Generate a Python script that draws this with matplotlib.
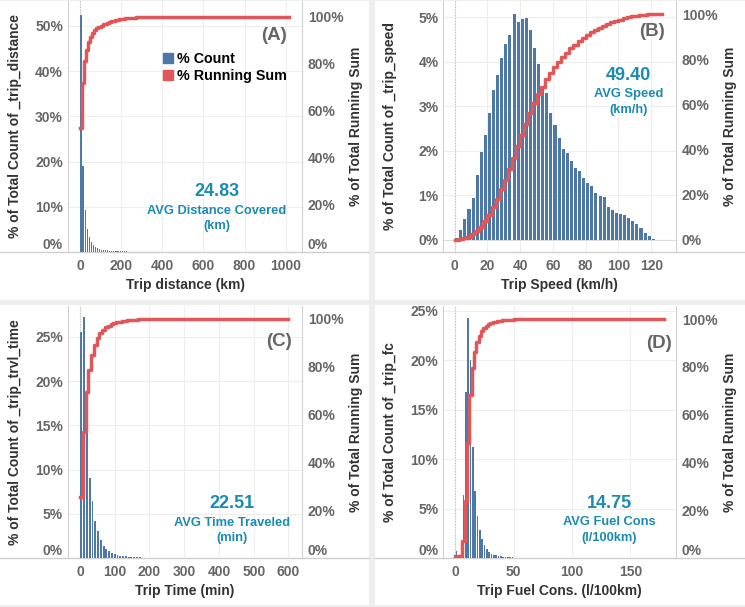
import numpy as np
import matplotlib
matplotlib.use("Agg")
import matplotlib.pyplot as plt
from matplotlib.lines import Line2D
from matplotlib.patches import Rectangle

plt.rcParams['font.family'] = ['Liberation Sans', 'DejaVu Sans']
plt.rcParams['font.weight'] = 'bold'
plt.rcParams['axes.labelweight'] = 'bold'

BLUE = '#4e79a7'
RED = '#e15759'
TEAL = '#1b8cb0'
GRAY = '#666666'
DARK = '#333333'
LINE = '#d0d0d0'
BG = '#eeeeee'

# --- values: % of trips per bin ---
dist_bin = 10
dist_count = [52.5, 19.0, 9.3, 5.0, 3.3, 2.2, 1.5, 1.1, 0.9, 0.7,
              0.5, 0.45, 0.4, 0.35, 0.3, 0.28, 0.25, 0.22, 0.2, 0.18,
              0.16, 0.14, 0.12, 0.1, 0.09, 0.08, 0.07, 0.06, 0.05, 0.04,
              0.04, 0.04, 0.03, 0.03, 0.03, 0.02, 0.02, 0.02, 0.02, 0.02]
dist_last = 1016
dist_avg = ['24.83', 'AVG Distance Covered', '(km)']

speed_bin = 2.5
speed_count = [0.04, 0.22, 0.47, 0.69, 0.95, 1.46, 1.98, 2.35, 2.84, 3.37,
               3.70, 4.09, 4.39, 4.60, 5.07, 4.88, 4.95, 4.98, 4.72, 4.30,
               3.95, 3.45, 3.30, 2.85, 2.58, 2.28, 2.05, 1.94, 1.78, 1.62,
               1.55, 1.40, 1.28, 1.20, 1.05, 0.98, 0.97, 0.75, 0.68, 0.60,
               0.58, 0.57, 0.50, 0.43, 0.35, 0.26, 0.16, 0.08, 0.03]
speed_last = 126.5
speed_avg = ['49.40', 'AVG Speed', '(km/h)']

time_bin = 8
time_count = [25.6, 27.3, 17.0, 9.0, 6.5, 4.2, 3.0, 2.0, 1.4, 1.0,
              0.75, 0.6, 0.45, 0.35, 0.28, 0.22, 0.18, 0.15, 0.12, 0.1,
              0.08, 0.06, 0.05, 0.04, 0.03, 0.03, 0.02, 0.02]
time_last = 600
time_avg = ['22.51', 'AVG Time Traveled', '(min)']

fuel_bin = 2
fuel_count = [0.7, 0, 0, 6.35, 16.8, 24.3, 20.0, 11.2, 6.8, 4.2,
              2.8, 1.9, 1.3, 0.9, 0.6, 0.45, 0.35, 0.28, 0.22, 0.18,
              0.15, 0.12, 0.1, 0.08, 0.06, 0.05, 0.04, 0.03, 0.02, 0.02, 0.01]
fuel_last = 179
fuel_avg = ['14.75', 'AVG Fuel Cons', '(l/100km)']

W, H = 745, 607
fig = plt.figure(figsize=(W / 100, H / 100), dpi=100)
fig.patch.set_facecolor(BG)


def fx(x):
    return x / W


def fy(y):
    return 1 - y / H


def draw(panel, plot, bw, counts, last, bar_w, xlim, xticks, ylim, yticks, ylim2,
         xlabel, ylabel, tag, tag_xy, avg, avg_xy, zero_floor=True):
    pl, pt, pr, pb = panel
    l, t, r, b = plot
    fig.add_artist(Rectangle((fx(pl), fy(pb)), fx(pr - pl), (pb - pt) / H,
                             transform=fig.transFigure, facecolor='white',
                             edgecolor='none', zorder=-2))
    fig.add_artist(Line2D([fx(pl), fx(pr)], [fy(b), fy(b)], color=LINE, lw=1, zorder=-1))

    ax = fig.add_axes([fx(l), fy(b), fx(r - l), (b - t) / H])
    ax.set_facecolor('none')
    starts = np.arange(len(counts)) * bw
    ax.bar(starts + bw / 2, counts, width=bw * bar_w, color=BLUE, zorder=3)
    ax.set_xlim(*xlim)
    ax.set_ylim(*ylim)
    ax.set_xticks(xticks)
    ax.set_yticks(yticks)
    ax.set_yticklabels([f'{v:g}%' for v in yticks])
    ax.grid(color='#eeeeee', lw=0.8)
    ax.set_axisbelow(True)
    ax.axvline(0, color='#bbbbbb', lw=0.8, ls=(0, (1, 1.5)), zorder=1)
    if not zero_floor:
        ax.axhline(0, color='#dddddd', lw=0.8, zorder=1)
    ax.tick_params(axis='x', length=0, labelsize=10, labelcolor=GRAY, pad=5)
    ax.tick_params(axis='y', length=0, labelsize=10, labelcolor=GRAY, pad=3.6)
    for s in ['top', 'right', 'bottom']:
        ax.spines[s].set_visible(False)
    ax.spines['left'].set_color(LINE)

    ax.set_xlabel(xlabel, fontsize=10, color=DARK)
    ax.xaxis.set_label_coords(0.5, -(278.5 - 252) / 252)
    ax.set_ylabel(ylabel, fontsize=10, color=DARK)
    ax.yaxis.label.set_va('center')
    ax.yaxis.set_label_coords(-53 / (r - l), 0.5)

    ax2 = ax.twinx()
    run = np.cumsum(counts) / np.sum(counts) * 100
    xs = np.append(starts, last)
    ys = np.append(run, run[-1])
    ax2.plot(xs, ys, drawstyle='steps-post', color=RED, lw=2.5, zorder=4)
    ax2.set_ylim(*ylim2)
    rt = [0, 20, 40, 60, 80, 100]
    ax2.set_yticks(rt)
    ax2.set_yticklabels([f'{v}%' for v in rt])
    ax2.tick_params(axis='y', length=0, labelsize=10, labelcolor=GRAY, pad=4.3)
    for s in ['top', 'left', 'bottom']:
        ax2.spines[s].set_visible(False)
    ax2.spines['right'].set_color(LINE)
    ax2.set_ylabel('% of Total Running Sum', fontsize=10, color=DARK)
    ax2.yaxis.label.set_va('center')
    ax2.yaxis.set_label_coords(1 + 54.5 / (r - l), 0.5)

    for lab in ax.get_xticklabels() + ax.get_yticklabels() + ax2.get_yticklabels():
        lab.set_fontweight('bold')
    if zero_floor:
        ax.get_yticklabels()[0].set_va('bottom')
        ax2.get_yticklabels()[0].set_va('bottom')

    fig.text(fx(tag_xy[0]), fy(tag_xy[1]), tag, ha='right', va='center',
             fontsize=13.5, color=GRAY, fontweight='bold')
    fig.text(fx(avg_xy[0]), fy(avg_xy[1]), avg[0], ha='center', va='center',
             fontsize=13, color=TEAL, fontweight='bold')
    fig.text(fx(avg_xy[0]), fy(avg_xy[1] + 18.5), avg[1], ha='center', va='center',
             fontsize=9.3, color=TEAL, fontweight='bold')
    fig.text(fx(avg_xy[0]), fy(avg_xy[1] + 34.5), avg[2], ha='center', va='center',
             fontsize=9.3, color=TEAL, fontweight='bold')
    return ax, ax2


axA, axA2 = draw((0, 1, 369, 300), (68, 1, 302, 252), dist_bin, dist_count, dist_last, 0.55,
                 (-58, 1079), range(0, 1001, 200), (0, 55.5), range(0, 51, 10), (0, 106.6),
                 'Trip distance (km)', '% of Total Count of _trip_distance',
                 '(A)', (287, 35), dist_avg, (217, 192))

draw((375, 1, 745, 300), (443.5, 1, 676, 252), speed_bin, speed_count, speed_last, 0.75,
     (-6.8, 135.1), range(0, 121, 20), (-0.27, 5.36), range(0, 6), (-5.4, 105.9),
     'Trip Speed (km/h)', '% of Total Count of _trip_speed',
     '(B)', (665, 32), speed_avg, (628.7, 76), zero_floor=False)

draw((0, 305, 369, 605), (68, 306, 302, 558), time_bin, time_count, time_last, 0.7,
     (-34.5, 639), range(0, 601, 100), (0, 28.5), range(0, 26, 5), (0, 105.4),
     'Trip Time (min)', '% of Total Count of _trip_trvl_time',
     '(C)', (292, 342), time_avg, (231.7, 504))

draw((375, 305, 745, 605), (443.5, 306, 676, 558), fuel_bin, fuel_count, fuel_last, 0.75,
     (-10.1, 189.2), range(0, 151, 50), (0, 25.5), range(0, 26, 5), (0, 105.5),
     'Trip Fuel Cons. (l/100km)', '% of Total Count of _trip_fc',
     '(D)', (672, 343), fuel_avg, (609.3, 503.3))

handles = [Line2D([], [], marker='s', ls='', color=BLUE, markersize=6.5),
           Line2D([], [], marker='s', ls='', color=RED, markersize=6.5)]
axA2.legend(handles, ['% Count', '% Running Sum'], loc='upper left',
            bbox_to_anchor=((164 - 68) / 234, 1 - 51 / 251), frameon=False,
            handlelength=0.6, handletextpad=0.3, labelspacing=0.2,
            borderaxespad=0, borderpad=0, prop={'size': 10.3, 'weight': 'bold'})

fig.savefig('out.png', dpi=100, facecolor=BG)
